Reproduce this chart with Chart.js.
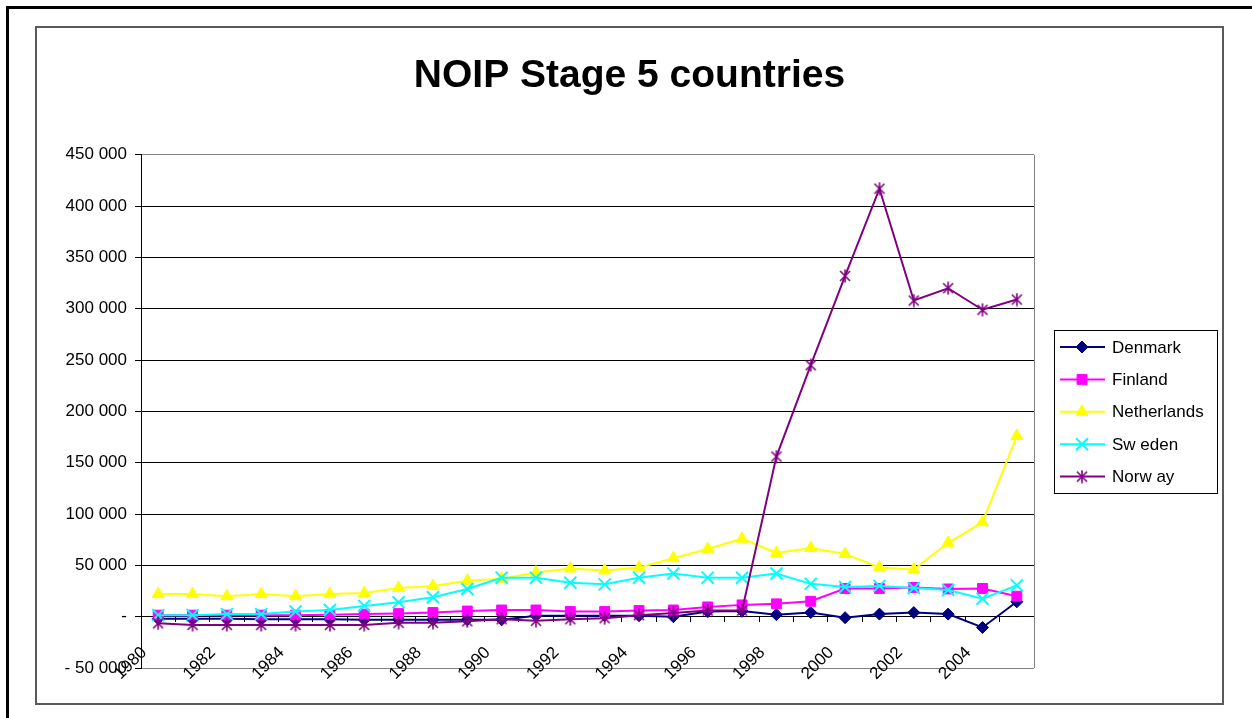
<!DOCTYPE html>
<html lang="en">
<head>
    <meta charset="UTF-8">
    <title>NOIP Stage 5 countries</title>
    <script src="https://cdn.jsdelivr.net/npm/chart.js@4.4.0/dist/chart.umd.min.js"></script>
    <style>
        body {
            margin: 0;
            background: #fff;
            font-family: 'Liberation Sans', Arial, sans-serif;
        }
        /* outer sheet frame, only top and left edges are visible */
        .sheet {
            position: absolute;
            left: 6px;
            top: 6px;
            width: 1300px;
            height: 800px;
            border-left: 3px solid #000;
            border-top: 3px solid #000;
        }
        .chart-box {
            position: absolute;
            left: 35px;
            top: 26px;
            width: 1189px;
            height: 679px;
            box-sizing: border-box;
            border: 2px solid #5a5a5a;
            background: #fff;
        }
        #noipChart {
            display: block;
        }
    </style>
</head>
<body>
    <div class="sheet"></div>
    <div class="chart-box">
        <canvas id="noipChart" width="1185" height="675"></canvas>
    </div>

    <script>
        const years = ['1980', '1981', '1982', '1983', '1984', '1985', '1986', '1987', '1988', '1989',
                       '1990', '1991', '1992', '1993', '1994', '1995', '1996', '1997', '1998', '1999',
                       '2000', '2001', '2002', '2003', '2004', '2005'];

        const denmark = [-2000, -2000, -2000, -2500, -2500, -2500, -3000, -3000, -3000, -3000,
                         -3000, 1000, 1000, 1000, 1000, 0, 5000, 5500, 2000, 4000,
                         -1000, 2500, 4000, 2500, -10500, 14500];
        const finland = [1500, 1500, 1500, 1500, 1500, 2000, 2500, 3000, 4000, 5500,
                         6500, 6500, 5000, 5000, 6000, 6500, 9500, 11500, 12500, 15000,
                         27500, 27500, 28500, 27000, 27500, 20000];
        const netherlands = [22000, 22000, 20000, 22000, 20000, 22000, 23000, 28000, 30000, 35000,
                             37000, 43000, 47000, 45000, 48000, 57000, 66000, 76000, 62000, 67000,
                             61000, 48000, 46000, 72000, 92000, 176000];
        const sweden = [1500, 1500, 2500, 2500, 5000, 6500, 10500, 14000, 19000, 27000,
                        38000, 38000, 33000, 31500, 38000, 42000, 38000, 38000, 42000, 32000,
                        29000, 30000, 28000, 26000, 17500, 30500];
        const norway = [-6500, -8000, -8000, -8000, -8000, -8000, -8000, -6000, -6000, -4500,
                        -2500, -4000, -2500, -1500, 1500, 3500, 6000, 6000, 156000, 245000,
                        332000, 417000, 308000, 320000, 299000, 309000];

        const legendNames = ['Denmark', 'Finland', 'Netherlands', 'Sw eden', 'Norw ay'];

        const FONT = "'Liberation Sans', Arial, sans-serif";

        // asterisk marker: an X with a vertical stroke through it
        function makeStar(color) {
            const c = document.createElement('canvas');
            c.width = 14;
            c.height = 14;
            const g = c.getContext('2d');
            g.strokeStyle = color;
            g.lineWidth = 1.6;
            g.beginPath();
            g.moveTo(2, 2); g.lineTo(12, 12);
            g.moveTo(12, 2); g.lineTo(2, 12);
            g.moveTo(7, 0.5); g.lineTo(7, 13.5);
            g.stroke();
            return c;
        }

        // numbers like 450 000, zero as a dash
        function formatValue(v) {
            if (v === 0) return '-';
            const s = Math.abs(v).toString().replace(/\B(?=(\d{3})+(?!\d))/g, ' ');
            return v < 0 ? '- ' + s : s;
        }

        function series(label, data, color, style, radius, order) {
            return {
                label: label,
                data: data,
                borderColor: color,
                backgroundColor: color,
                borderWidth: 2,
                pointStyle: style,
                pointRadius: radius,
                pointHoverRadius: radius,
                pointBackgroundColor: color,
                pointBorderColor: color,
                pointBorderWidth: style === 'crossRot' ? 2 : 1,
                tension: 0,
                order: order
            };
        }

        // plot area frame on the right side
        const plotFrame = {
            id: 'plotFrame',
            beforeDatasetsDraw(chart) {
                const a = chart.chartArea;
                const ctx = chart.ctx;
                ctx.save();
                ctx.strokeStyle = '#808080';
                ctx.lineWidth = 1;
                ctx.beginPath();
                ctx.moveTo(Math.round(a.right) + 0.5, a.top);
                ctx.lineTo(Math.round(a.right) + 0.5, a.bottom);
                ctx.stroke();
                ctx.restore();
            }
        };

        // boxed legend with line + marker samples
        const boxedLegend = {
            id: 'boxedLegend',
            afterDraw(chart) {
                const a = chart.chartArea;
                const ctx = chart.ctx;
                const w = 163, h = 163;
                const left = Math.round(a.right) + 20;
                const top = Math.round((a.top + a.bottom) / 2 - 81);
                ctx.save();
                ctx.strokeStyle = '#000';
                ctx.lineWidth = 1;
                ctx.strokeRect(left + 0.5, top + 0.5, w, h);
                chart.data.datasets.forEach((ds, i) => {
                    const y = top + 17 + i * 32.4;
                    ctx.strokeStyle = ds.borderColor;
                    ctx.lineWidth = 2;
                    ctx.beginPath();
                    ctx.moveTo(left + 6, y);
                    ctx.lineTo(left + 51, y);
                    ctx.stroke();
                    ctx.fillStyle = ds.pointBackgroundColor;
                    ctx.strokeStyle = ds.pointBorderColor;
                    ctx.lineWidth = ds.pointBorderWidth;
                    Chart.helpers.drawPoint(ctx, {
                        pointStyle: ds.pointStyle,
                        radius: ds.pointRadius,
                        rotation: 0,
                        borderWidth: ds.pointBorderWidth
                    }, left + 28, y);
                    ctx.fillStyle = '#000';
                    ctx.font = '17px ' + FONT;
                    ctx.textAlign = 'left';
                    ctx.textBaseline = 'middle';
                    ctx.fillText(legendNames[i], left + 58, y + 1);
                });
                ctx.restore();
            }
        };

        function zeroPadding(scale) {
            scale.paddingLeft = 0;
            scale.paddingRight = 0;
            scale.paddingTop = 0;
            scale.paddingBottom = 0;
        }

        const ctx = document.getElementById('noipChart').getContext('2d');
        new Chart(ctx, {
            type: 'line',
            data: {
                labels: years,
                datasets: [
                    series('Denmark', denmark, '#000080', 'rectRot', 6, 4),
                    series('Finland', finland, '#ff00ff', 'rect', 7, 3),
                    series('Netherlands', netherlands, '#ffff00', 'triangle', 7, 2),
                    series('Sweden', sweden, '#00ffff', 'crossRot', 8.5, 1),
                    series('Norway', norway, '#800080', makeStar('#800080'), 7, 0)
                ]
            },
            options: {
                responsive: false,
                animation: false,
                events: [],
                layout: {
                    padding: { top: 0, left: 0, right: 0, bottom: 35 }
                },
                plugins: {
                    legend: { display: false },
                    tooltip: { enabled: false },
                    title: {
                        display: true,
                        text: 'NOIP Stage 5 countries',
                        color: '#000',
                        font: { family: FONT, size: 39, weight: 'bold' },
                        padding: { top: 25, bottom: 55 }
                    }
                },
                scales: {
                    x: {
                        type: 'category',
                        position: { y: 0 },
                        offset: true,
                        grid: {
                            offset: true,
                            drawOnChartArea: false,
                            drawTicks: true,
                            tickLength: 5,
                            tickColor: '#000'
                        },
                        border: { display: true, color: '#000', width: 1 },
                        ticks: {
                            autoSkip: false,
                            minRotation: 45,
                            maxRotation: 45,
                            padding: 21,
                            labelOffset: -14,
                            color: '#000',
                            font: { family: FONT, size: 17 },
                            callback: (val, i) => (i % 2 === 0 ? years[i] : '')
                        },
                        afterFit: zeroPadding
                    },
                    y: {
                        min: -50000,
                        max: 450000,
                        grid: {
                            color: (c) => (c.tick && (c.tick.value === 450000 || c.tick.value === -50000)) ? '#808080' : '#000',
                            tickColor: '#000',
                            tickLength: 6,
                            lineWidth: 1
                        },
                        border: { display: true, color: '#000', width: 1 },
                        ticks: {
                            stepSize: 50000,
                            padding: 8,
                            color: '#000',
                            font: { family: FONT, size: 17 },
                            callback: (v) => formatValue(v)
                        },
                        afterFit: (s) => {
                            s.width = 104;
                            zeroPadding(s);
                        }
                    },
                    // empty right-hand band that holds the legend
                    legendBand: {
                        type: 'linear',
                        position: 'right',
                        grid: { display: false, drawOnChartArea: false },
                        border: { display: false },
                        ticks: { display: false },
                        afterFit: (s) => {
                            s.width = 188;
                            zeroPadding(s);
                        }
                    }
                }
            },
            plugins: [plotFrame, boxedLegend]
        });
    </script>
</body>
</html>
